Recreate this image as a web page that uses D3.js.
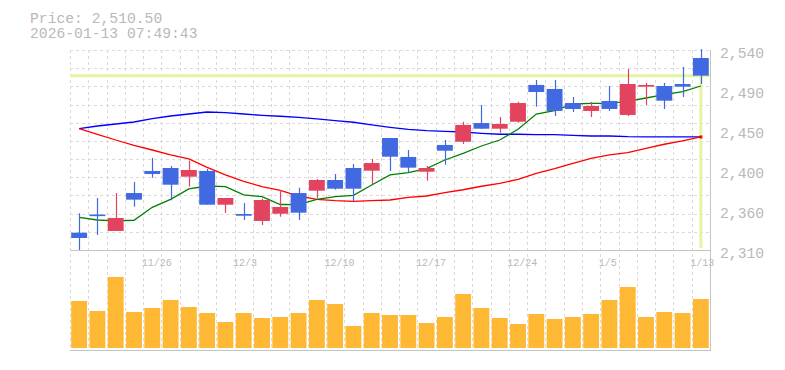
<!DOCTYPE html>
<html><head><meta charset="utf-8">
<script src="https://cdn.jsdelivr.net/npm/d3@7"></script>
<style>body{margin:0;background:#fff}svg{display:block}</style>
</head><body><svg id="c" width="785" height="370"></svg>
<script>
const dates = ["11/19","11/20","11/21","11/25","11/26","11/27","11/28","12/1","12/2","12/3","12/4","12/5","12/8","12/9","12/10","12/11","12/12","12/15","12/16","12/17","12/18","12/19","12/22","12/23","12/24","12/25","12/26","12/29","12/30","1/5","1/6","1/7","1/8","1/9","1/13"];
const opens  = [2329.9,2350.8,2331.9,2375.5,2400.9,2404.3,2394.3,2400.9,2362.1,2351.4,2343.4,2351.7,2375.5,2378.2,2390.5,2404.3,2401.2,2438.8,2417.0,2400.0,2430.8,2434.5,2456.0,2449.5,2457.5,2499.8,2495.2,2479.0,2469.9,2481.4,2465.3,2497.8,2498.6,2500.9,2530.8];
const highs  = [2352.2,2369.8,2375.5,2388.2,2415.8,2406.6,2412.7,2403.2,2369.8,2364.0,2369.0,2379.0,2381.7,2391.6,2397.4,2408.9,2414.7,2438.8,2425.0,2406.6,2436.5,2457.5,2476.8,2463.0,2480.5,2505.5,2505.5,2486.0,2480.2,2498.6,2518.2,2502.1,2502.1,2520.5,2541.0];
const lows   = [2310.0,2327.3,2331.9,2359.8,2393.1,2367.2,2382.8,2362.1,2352.6,2344.5,2338.8,2348.3,2344.5,2369.5,2379.4,2366.4,2385.9,2400.9,2399.4,2389.7,2408.1,2431.9,2449.2,2444.6,2456.4,2474.8,2464.1,2468.7,2462.9,2469.9,2464.1,2476.8,2472.2,2486.0,2500.9];
const closes = [2323.8,2349.7,2346.8,2367.9,2397.4,2385.1,2402.0,2362.1,2369.8,2349.4,2367.5,2359.5,2352.9,2390.5,2380.5,2380.5,2410.0,2417.3,2404.7,2404.3,2424.2,2453.8,2449.5,2454.9,2479.0,2491.7,2469.9,2472.2,2475.6,2472.2,2500.9,2499.8,2481.7,2497.8,2510.5];
const volumes = [2350,1850,3550,1800,2000,2400,2050,1750,1300,1750,1500,1550,1750,2400,2200,1100,1750,1650,1650,1250,1550,2700,2000,1500,1200,1700,1450,1550,1700,2400,3050,1550,1800,1750,2450];
const ma5  = [2347.6,2344.5,2343.4,2344.2,2359.1,2368.3,2380.2,2383.6,2382.8,2373.3,2371.3,2362.3,2362.1,2368.3,2371.3,2372.9,2384.8,2396.3,2398.9,2403.5,2413.5,2421.2,2429.6,2436.5,2448.8,2466.4,2470.2,2477.9,2478.7,2478.7,2481.0,2484.8,2488.6,2492.0,2498.6];
const ma25 = [2449.5,2443.1,2436.5,2430.4,2425.0,2419.3,2414.7,2405.1,2396.3,2389.0,2382.8,2378.7,2372.1,2368.3,2366.7,2366.0,2366.7,2367.5,2370.6,2372.1,2375.9,2379.3,2383.3,2386.7,2391.3,2398.2,2403.5,2409.7,2415.5,2419.3,2421.9,2427.0,2431.6,2435.4,2440.0];
const ma75 = [2449.5,2452.6,2454.9,2457.2,2461.0,2464.1,2466.4,2468.7,2467.9,2466.4,2464.9,2463.8,2462.6,2460.7,2458.7,2456.9,2453.8,2451.1,2448.8,2447.2,2446.5,2445.7,2444.2,2443.1,2443.1,2442.6,2442.6,2441.9,2441.1,2441.1,2440.3,2440.0,2440.0,2440.0,2440.0];
const xTickLabels = ["11/26","12/3","12/10","12/17","12/24","1/5","1/13"];
const yTickValues = [2540,2494,2448,2402,2356,2310];
const yTickLabels = ["2,540","2,490","2,450","2,400","2,360","2,310"];
const currentPrice = 2510.5;
const titleLines = ["Price: 2,510.50","2026-01-13 07:49:43"];

const svg = d3.select("#c");
const L = 70, R = 710, PT = 50, PB = 250, VT = 250, VB = 350, VBase = 348;
const FONT = "'Liberation Mono', 'DejaVu Sans Mono', monospace";
const TXT = "#b9b9b9", GRID = "#dadada", BORDER = "#c4c4c4";
const UP = "#e2445f", DOWN = "#4169e1";

const x = d3.scaleBand().domain(dates).range([L, R]).padding(0);
const bw = x.bandwidth();
const cx = d => x(d) + bw / 2;
const y = d3.scaleLinear().domain([2310, 2540]).range([PB, PT]);
const yv = d3.scaleLinear().domain([0, 4000]).range([VBase, VBase - 80]);

// title
svg.selectAll("text.title").data(titleLines).join("text")
  .attr("x", 30).attr("y", (d, i) => 23 + i * 15)
  .attr("font-family", FONT).attr("font-size", "14.7px").attr("fill", TXT).text(d => d);

// grid
const g = svg.append("g").attr("stroke", GRID).attr("stroke-dasharray", "3,3").attr("shape-rendering", "crispEdges");
g.selectAll("line.h").data(d3.range(12)).join("line")
  .attr("x1", L).attr("x2", R)
  .attr("y1", i => Math.round(PT + i * (PB - PT) / 11) + 0.5)
  .attr("y2", i => Math.round(PT + i * (PB - PT) / 11) + 0.5);
g.selectAll("line.v").data(dates).join("line")
  .attr("x1", d => Math.round(x(d)) + 0.5).attr("x2", d => Math.round(x(d)) + 0.5)
  .attr("y1", PT).attr("y2", VB);

// crosshair
const cpY = y(currentPrice);
svg.append("line").attr("x1", L).attr("x2", R).attr("y1", cpY).attr("y2", cpY)
  .attr("stroke", "#e3f4a3").attr("stroke-width", 3);
svg.append("line").attr("x1", cx(dates[dates.length - 1])).attr("x2", cx(dates[dates.length - 1]))
  .attr("y1", cpY).attr("y2", PB - 2)
  .attr("stroke", "#e3f4a3").attr("stroke-width", 3);

// moving averages
const line = d3.line().x((d, i) => cx(dates[i])).y(d => y(d));
[[ma75, "#0000ff"], [ma25, "#ff0000"], [ma5, "#008000"]].forEach(([arr, col]) => {
  svg.append("path").datum(arr).attr("d", line).attr("fill", "none")
    .attr("stroke", col).attr("stroke-width", 1.3);
});
svg.append("rect").attr("x", cx(dates[dates.length - 1]) - 1.5).attr("y", y(ma25[ma25.length - 1]) - 1.5)
  .attr("width", 3).attr("height", 3).attr("fill", "#ff0000");

// candles
const candles = svg.append("g").selectAll("g").data(dates).join("g")
  .attr("fill", (d, i) => closes[i] >= opens[i] ? UP : DOWN)
  .attr("stroke", (d, i) => closes[i] >= opens[i] ? UP : DOWN);
candles.append("line")
  .attr("x1", d => Math.round(cx(d)) + 0.5).attr("x2", d => Math.round(cx(d)) + 0.5)
  .attr("y1", (d, i) => y(highs[i])).attr("y2", (d, i) => y(lows[i]))
  .attr("stroke-width", 1.2);
candles.append("rect")
  .attr("stroke", "none")
  .attr("x", d => x(d) + 1.2).attr("width", bw - 2.4)
  .attr("y", (d, i) => y(Math.max(opens[i], closes[i])))
  .attr("height", (d, i) => Math.max(1.6, Math.abs(y(opens[i]) - y(closes[i]))));

// volume
svg.append("g").selectAll("rect").data(dates).join("rect")
  .attr("x", d => x(d) + 1.2).attr("width", bw - 2.4)
  .attr("y", (d, i) => yv(volumes[i])).attr("height", (d, i) => VBase - yv(volumes[i]))
  .attr("fill", "#ffb833");

// borders
const b = svg.append("g").attr("stroke", BORDER).attr("stroke-width", 1.3).attr("shape-rendering", "crispEdges");
b.append("line").attr("x1", L).attr("x2", R + 1).attr("y1", VT + 0.5).attr("y2", VT + 0.5);
b.append("line").attr("x1", L).attr("x2", R + 1).attr("y1", VB + 0.5).attr("y2", VB + 0.5);
b.append("line").attr("x1", R + 0.5).attr("x2", R + 0.5).attr("y1", PT).attr("y2", VB);

// x labels
svg.selectAll("text.xl").data(xTickLabels).join("text")
  .attr("x", d => x(d) - 1.5).attr("y", 265.5)
  .attr("font-family", FONT).attr("font-size", "10px").attr("fill", TXT).text(d => d);

// y labels
svg.selectAll("text.yl").data(yTickValues).join("text")
  .attr("x", 720).attr("y", d => y(d) + 7.8)
  .attr("font-family", FONT).attr("font-size", "14.7px").attr("fill", TXT)
  .text((d, i) => yTickLabels[i]);
</script></body></html>
